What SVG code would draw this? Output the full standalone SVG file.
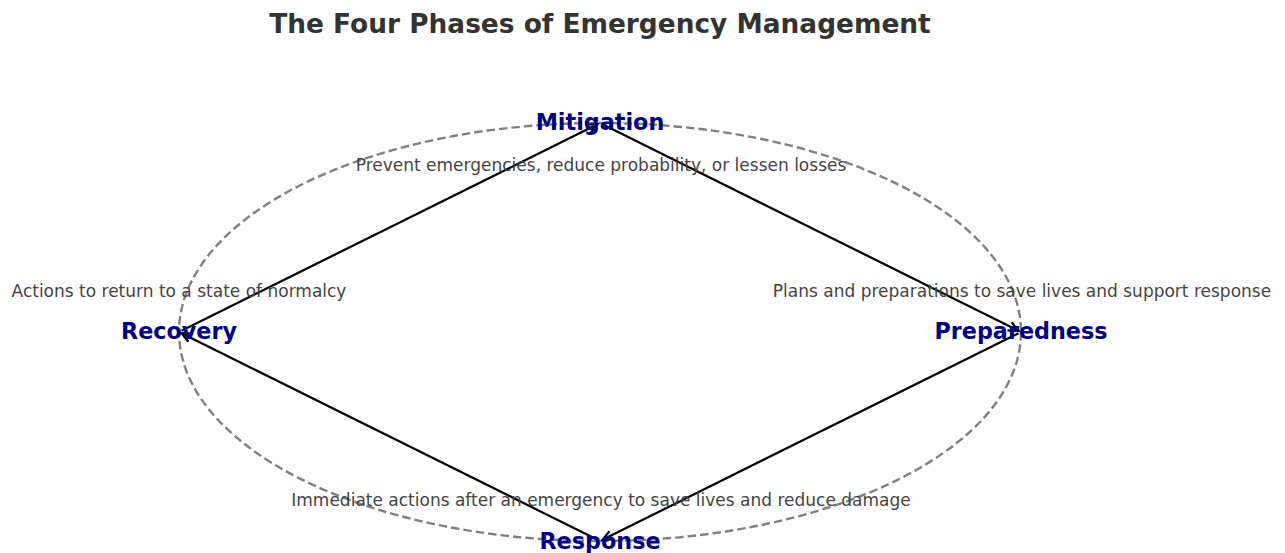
<svg xmlns="http://www.w3.org/2000/svg" width="1285" height="553" viewBox="0 0 1285 553">
  <style>
    .title { font-family: "DejaVu Sans", "Liberation Sans", sans-serif; font-size: 26.4px; font-weight: bold; fill: #333333; text-anchor: middle; }
    .phase { font-family: "DejaVu Sans", "Liberation Sans", sans-serif; font-size: 22.3px; font-weight: bold; fill: #000080; text-anchor: middle; }
    .desc { font-family: "DejaVu Sans", "Liberation Sans", sans-serif; font-size: 17px; fill: #444444; text-anchor: middle; }
    .cycle { fill: none; stroke: #808080; stroke-width: 2.4; stroke-dasharray: 8.5 4; }
    .flow { stroke: #000000; stroke-width: 2.2; fill: none; marker-end: url(#head); }
  </style>
  <defs>
    <marker id="head" markerUnits="userSpaceOnUse" markerWidth="16" markerHeight="14" refX="0" refY="0" viewBox="-12 -7 16 14" orient="auto">
      <path d="M-10,-4.5 L0,0 L-10,4.5" fill="none" stroke="#000000" stroke-width="2.2" stroke-linejoin="miter"/>
    </marker>
  </defs>
  <rect width="1285" height="553" fill="#ffffff"/>

  <text class="title" x="600" y="33">The Four Phases of Emergency Management</text>

  <!-- dashed cycle outline -->
  <ellipse class="cycle" cx="600" cy="332" rx="421" ry="209"/>

  <!-- connectors: cycle direction Mitigation -> Preparedness -> Response -> Recovery -> Mitigation -->
  <g id="connectors">
    <line class="flow" x1="181.5" y1="330.8" x2="597.5" y2="124.2"/>
    <line class="flow" x1="602.5" y1="124.2" x2="1018.5" y2="330.8"/>
    <line class="flow" x1="1018.5" y1="333.2" x2="602.5" y2="539.8"/>
    <line class="flow" x1="597.5" y1="539.8" x2="181.5" y2="333.2"/>
  </g>

  <g id="mitigation">
    <text class="phase" x="600" y="130">Mitigation</text>
    <text class="desc" x="601" y="170.5">Prevent emergencies, reduce probability, or lessen losses</text>
  </g>
  <g id="preparedness">
    <text class="phase" x="1021" y="339">Preparedness</text>
    <text class="desc" x="1022" y="297">Plans and preparations to save lives and support response</text>
  </g>
  <g id="response">
    <text class="phase" x="600" y="549">Response</text>
    <text class="desc" x="601" y="506">Immediate actions after an emergency to save lives and reduce damage</text>
  </g>
  <g id="recovery">
    <text class="phase" x="179" y="339">Recovery</text>
    <text class="desc" x="179" y="297">Actions to return to a state of normalcy</text>
  </g>
</svg>
